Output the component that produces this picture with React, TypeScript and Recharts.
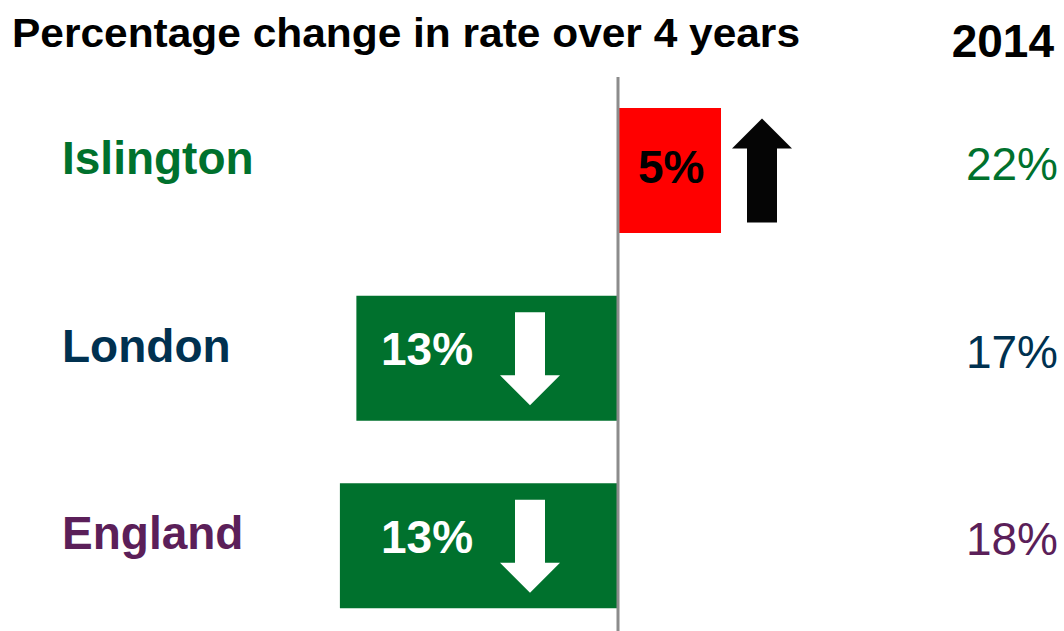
import React from 'react';
import { BarChart, Bar, XAxis, YAxis, Cell, ReferenceLine, LabelList } from 'recharts';

const areas = ['Islington', 'London', 'England'];
const change = [5, -12.7, -13.5];
const changeLabels = ['5%', '13%', '13%'];
const rate2014 = ['22%', '17%', '18%'];
const areaColors = ['#00712D', '#003150', '#5B1F59'];

const GREEN = '#00712D';
const RED = '#FF0000';
const FONT = '"Liberation Sans", Arial, Helvetica, sans-serif';

const data = areas.map((name, i) => ({
  name,
  change: change[i],
  label: changeLabels[i],
  rate: rate2014[i],
}));

const NameTick = (props: any) => {
  const { y, payload } = props;
  const i = areas.indexOf(payload.value);
  return (
    <text x={62} y={y + 3} fill={areaColors[i]} fontSize={46} fontWeight={700} fontFamily={FONT} textAnchor="start">
      {payload.value}
    </text>
  );
};

const getBox = (props: any) => {
  const vb = props.viewBox || props;
  const x = Number(vb.x), y = Number(vb.y), w = Number(vb.width), h = Number(vb.height);
  return { left: Math.min(x, x + w), right: Math.max(x, x + w), top: Math.min(y, y + h), bottom: Math.max(y, y + h) };
};

const ChangeLabel = (props: any) => {
  const { index } = props;
  const b = getBox(props);
  const v = change[index];
  const cy = (b.top + b.bottom) / 2;
  if (v >= 0) {
    const tx = b.left + 20;
    const ax = b.right + 41;
    const top = cy - 52, bot = cy + 52, headH = 30, hw = 30, sw = 15;
    const pts = [
      [ax, top], [ax + hw, top + headH], [ax + sw, top + headH], [ax + sw, bot],
      [ax - sw, bot], [ax - sw, top + headH], [ax - hw, top + headH],
    ].map((p) => p.join(',')).join(' ');
    return (
      <g>
        <text x={tx} y={cy + 12} fill="#000000" fontSize={46} fontWeight={700} fontFamily={FONT}>{changeLabels[index]}</text>
        <polygon points={pts} fill="#050505" />
      </g>
    );
  }
  const tx = b.right - 237;
  const ax = b.right - 88;
  const top = cy - 46, bot = cy + 47, headH = 30, hw = 30, sw = 15;
  const pts = [
    [ax - sw, top], [ax + sw, top], [ax + sw, bot - headH], [ax + hw, bot - headH],
    [ax, bot], [ax - hw, bot - headH], [ax - sw, bot - headH],
  ].map((p) => p.join(',')).join(' ');
  return (
    <g>
      <text x={tx} y={cy + 7} fill="#FFFFFF" fontSize={46} fontWeight={700} fontFamily={FONT}>{changeLabels[index]}</text>
      <polygon points={pts} fill="#FFFFFF" />
    </g>
  );
};

const RateLabel = (props: any) => {
  const { index } = props;
  const b = getBox(props);
  const cy = (b.top + b.bottom) / 2;
  return (
    <text x={1058} y={cy + 9.5} fill={areaColors[index]} fontSize={46} fontWeight={400} fontFamily={FONT} textAnchor="end">
      {rate2014[index]}
    </text>
  );
};

export default function App() {
  return (
    <div style={{ position: 'absolute', left: 0, top: 0, width: 1064, height: 631, overflow: 'hidden', background: '#FFFFFF' }}>
      <BarChart
        width={1064}
        height={645}
        data={data}
        layout="vertical"
        margin={{ top: 77, right: 34, bottom: 5, left: 23 }}
      >
        <XAxis type="number" domain={[-25, 20]} hide />
        <YAxis
          type="category"
          dataKey="name"
          width={80}
          axisLine={false}
          tickLine={false}
          tick={<NameTick />}
        />
        <Bar dataKey="change" barSize={125} isAnimationActive={false}>
          {data.map((d, i) => (
            <Cell key={i} fill={d.change >= 0 ? RED : GREEN} />
          ))}
          <LabelList dataKey="label" content={<ChangeLabel />} />
          <LabelList dataKey="rate" content={<RateLabel />} />
        </Bar>
        <ReferenceLine x={0} stroke="#8C8C8C" strokeWidth={3} />
      </BarChart>
      <svg width={1064} height={80} style={{ position: 'absolute', left: 0, top: 0 }}>
        <text x={12} y={47} fontSize={40} fontWeight={700} fontFamily={FONT} fill="#000000" textLength={788} lengthAdjust="spacingAndGlyphs">
          Percentage change in rate over 4 years
        </text>
        <text x={1054} y={57} fontSize={46} fontWeight={700} fontFamily={FONT} fill="#000000" textAnchor="end">
          2014
        </text>
      </svg>
    </div>
  );
}
